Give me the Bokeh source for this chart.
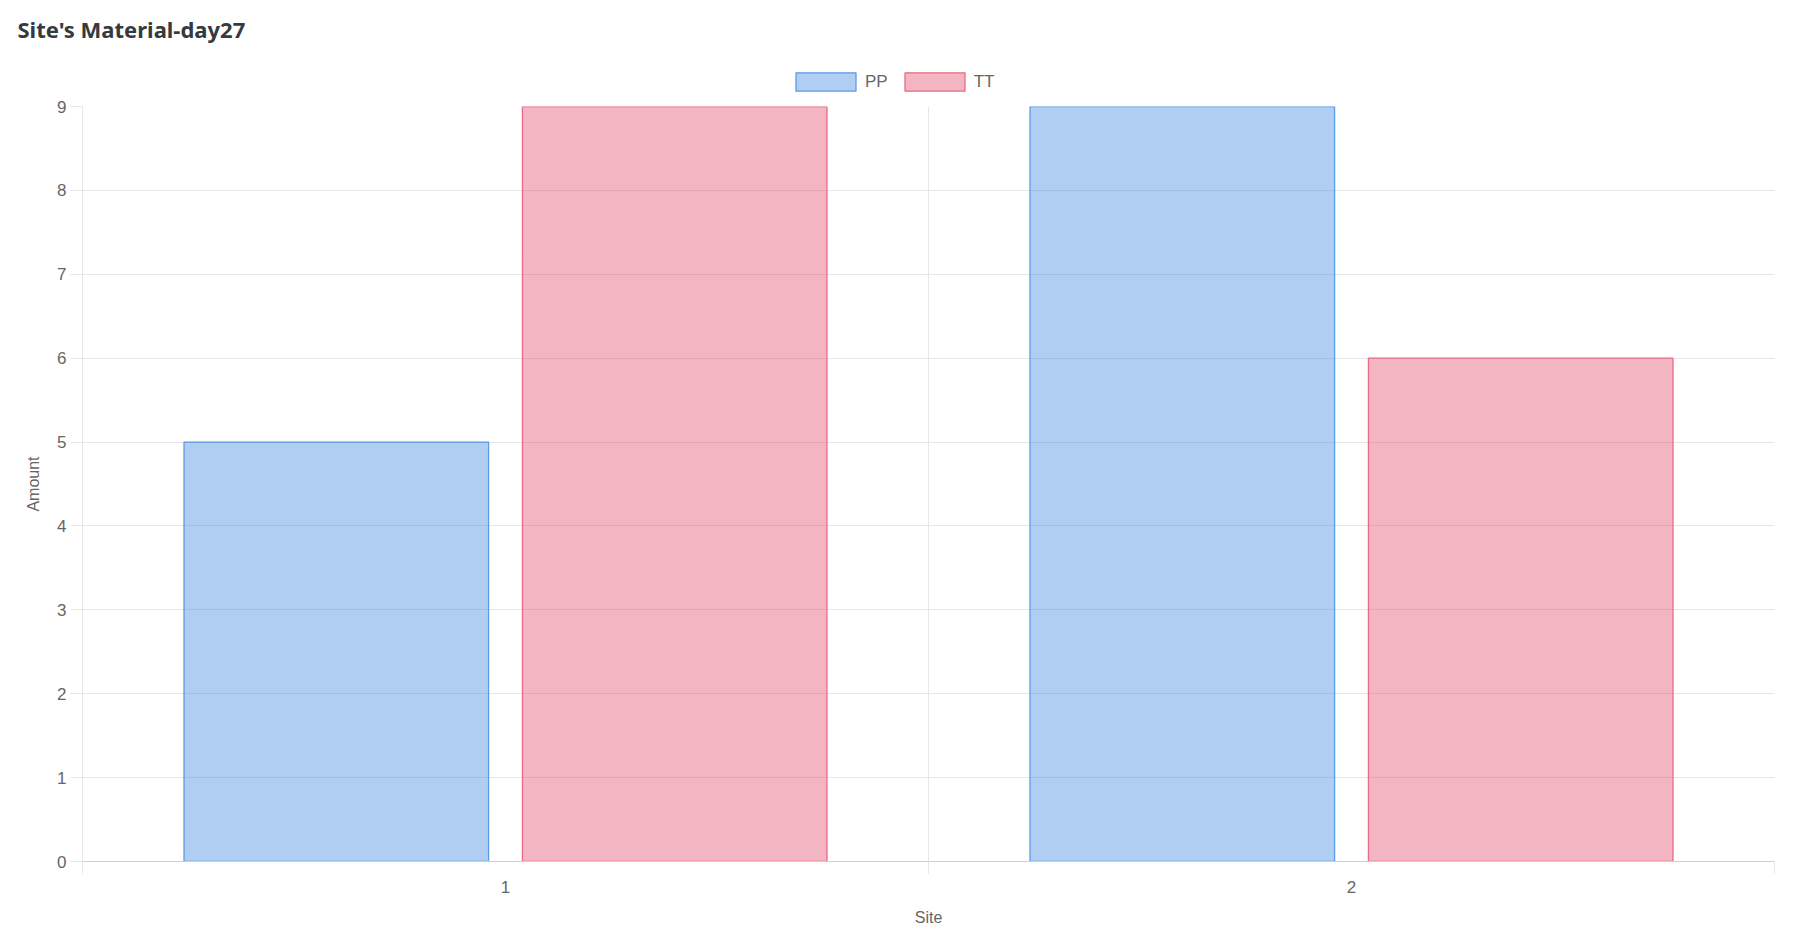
from bokeh.plotting import figure
from bokeh.models import ColumnDataSource, Range1d, FixedTicker, Legend, LegendItem, Label
from bokeh.transform import dodge
from bokeh.embed import file_html
from bokeh.resources import INLINE

# ---- data ----
sites = ["1", "2"]
pp = [5, 9]
tt = [9, 6]
y_ticks = [0, 1, 2, 3, 4, 5, 6, 7, 8, 9]
series_names = ["PP", "TT"]
title_text = "Site's Material-day27"
x_label = "Site"
y_label = "Amount"

centers = [i + 0.5 for i in range(len(sites))]
bounds = [i for i in range(len(sites) + 1)]

src = ColumnDataSource(dict(x=centers, pp=pp, tt=tt, site=sites))

FONT = "Liberation Sans"
GRID = "#e6e6e6"
PP_FILL, PP_LINE = "#4a90e2", "#5a9be6"
TT_FILL, TT_LINE = "#e55775", "#e86a86"
W = 1805
HEAD_H = 95

# ---------- header: title + legend ----------
hp = figure(width=W, height=HEAD_H, x_range=Range1d(0, len(sites)), y_range=Range1d(0, max(y_ticks)),
            x_axis_type=None, y_axis_type=None,
            output_backend="svg", toolbar_location=None, min_border=0)
hp.grid.visible = False
hp.outline_line_color = None
hp.background_fill_color = "white"
hp.border_fill_color = "white"

# legend-only copies of the two series (hidden in the header)
h_pp = hp.vbar(x="x", top="pp", width=0.36, source=src, visible=False,
               fill_color=PP_FILL, fill_alpha=0.44, line_color=PP_LINE, line_width=1.3)
h_tt = hp.vbar(x="x", top="tt", width=0.36, source=src, visible=False,
               fill_color=TT_FILL, fill_alpha=0.44, line_color=TT_LINE, line_width=1.3)

hp.add_layout(Label(x=17, y=HEAD_H - 28, x_units="screen", y_units="screen", text=title_text,
                    text_font="Noto Sans", text_font_style="bold", text_font_size="22px",
                    text_color="#343a40", text_baseline="alphabetic"))

legend = Legend(items=[LegendItem(label=series_names[0], renderers=[h_pp]),
                       LegendItem(label=series_names[1], renderers=[h_tt])],
                location=(788, 2), orientation="horizontal",
                glyph_width=75, glyph_height=23, label_standoff=2, spacing=9,
                padding=0, margin=0, border_line_color=None, background_fill_alpha=0,
                inactive_fill_alpha=0,
                label_text_font=FONT, label_text_font_size="17px", label_text_color="#666666")
hp.add_layout(legend)

# ---------- main chart ----------
p = figure(width=W, height=930 - HEAD_H,
           x_range=Range1d(0, len(sites)), y_range=Range1d(0, max(y_ticks)),
           output_backend="svg", toolbar_location=None,
           min_border_left=82, min_border_right=31, min_border_top=106 - HEAD_H, min_border_bottom=69)
p.outline_line_color = None
p.background_fill_color = "white"
p.border_fill_color = "white"

p.vbar(x=dodge("x", -0.2), top="pp", width=0.36, source=src,
       fill_color=PP_FILL, fill_alpha=0.44, line_color=PP_LINE, line_width=1.3)
p.vbar(x=dodge("x", 0.2), top="tt", width=0.36, source=src,
       fill_color=TT_FILL, fill_alpha=0.44, line_color=TT_LINE, line_width=1.3)

# x axis
xa = p.xaxis[0]
xa.ticker = FixedTicker(ticks=centers, minor_ticks=bounds)
xa.major_label_overrides = {c: s for c, s in zip(centers, sites)}
xa.major_tick_out = 0
xa.major_tick_in = 0
xa.minor_tick_out = 12
xa.minor_tick_in = 0
xa.minor_tick_line_color = GRID
xa.axis_line_color = "#cfcfcf"
xa.major_label_standoff = 7
xa.major_label_text_font = FONT
xa.major_label_text_font_size = "17px"
xa.major_label_text_color = "#666666"
xa.axis_label = x_label
xa.axis_label_standoff = 13
xa.axis_label_text_font = FONT
xa.axis_label_text_font_size = "16px"
xa.axis_label_text_font_style = "normal"
xa.axis_label_text_color = "#666666"

# y axis
ya = p.yaxis[0]
ya.ticker = FixedTicker(ticks=y_ticks)
ya.major_tick_out = 12
ya.major_tick_in = 0
ya.minor_tick_out = 0
ya.minor_tick_in = 0
ya.major_tick_line_color = GRID
ya.axis_line_color = GRID
ya.major_label_standoff = 4
ya.major_label_text_font = FONT
ya.major_label_text_font_size = "17px"
ya.major_label_text_color = "#666666"
ya.axis_label = y_label
ya.axis_label_standoff = 12
ya.axis_label_text_font = FONT
ya.axis_label_text_font_size = "16px"
ya.axis_label_text_font_style = "normal"
ya.axis_label_text_color = "#666666"

p.xgrid.ticker = FixedTicker(ticks=bounds)
p.xgrid.grid_line_color = GRID
p.ygrid.grid_line_color = GRID

open("out.html", "w").write(file_html([hp, p], INLINE))
